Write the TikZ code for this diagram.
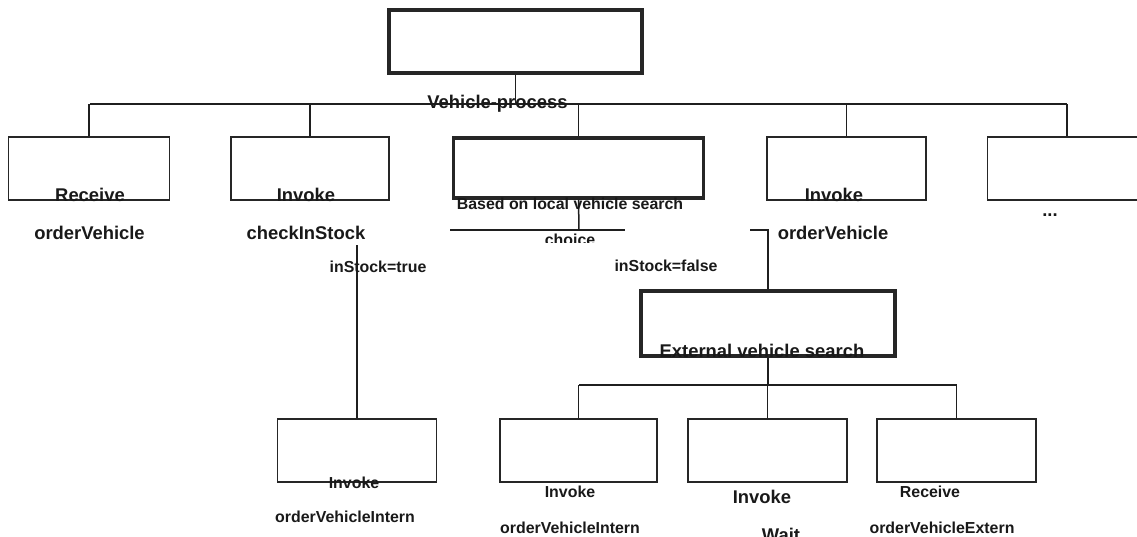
\documentclass[tikz,border=0pt]{standalone}
\usepackage{fontspec}
\setmainfont{Liberation Sans}
\begin{document}
\begin{tikzpicture}[x=1pt,y=-1pt,
  line width=1.5pt, draw=black!88,
  box/.style={draw=black!85, line width=1.5pt, inner sep=0pt, minimum width=159pt, minimum height=63pt},
  heavybox/.style={box, line width=3.6pt},
  lblL/.style={font=\fontsize{18.4}{20}\selectfont\bfseries, text=black!90, anchor=base, inner sep=0pt},
  lblS/.style={font=\fontsize{15.9}{18}\selectfont\bfseries, text=black!90, anchor=base, inner sep=0pt}]
\clip (0,0) rectangle (1137,536);
\fill[white] (0,0) rectangle (1137,536);

% process root
\node[heavybox, minimum width=253pt] (root) at (515.5,41.5) {};
\coordinate (busL) at (90,104);
\coordinate (busR) at (1067,104);

% first level activities
\node[box, minimum width=161pt] (recv) at (89,168.5) {};
\node[box, minimum width=158pt] (check) at (310,168.5) {};
\node[heavybox, minimum width=250pt, minimum height=60pt] (local) at (578.5,168) {};
\node[box] (order) at (846.5,168.5) {};
\node[box] (more) at (1067,168.5) {};

% choice branches
\coordinate (choiceJ) at (579,230);
\coordinate (choiceL) at (450,230);
\coordinate (choiceR) at (625,230);
\coordinate (trueTop) at (357,245);
\coordinate (falseTop) at (750,230);

\node[box] (intern) at (357,450.5) {};
\node[heavybox, minimum width=254pt, minimum height=65pt] (ext) at (768,323.5) {};
\coordinate (bus2L) at (579,385);
\coordinate (bus2R) at (957,385);
\node[box, minimum width=157pt] (extA) at (578.5,450.5) {};
\node[box] (extB) at (767.5,450.5) {};
\node[box] (extC) at (956.5,450.5) {};

% connectors
\draw (root.south) -- (root.south |- busL);
\draw (busL) -- (busR);
\foreach \n in {recv,check,local,order,more}
  \draw (\n.north) -- (\n.north |- busL);
\draw (local.south) -- (choiceJ);
\draw (choiceL) -- (choiceR);
\draw (trueTop) -- (intern.north);
\draw (falseTop) -| (ext.north);
\draw (ext.south) -- (ext.south |- bus2L);
\draw (bus2L) -- (bus2R);
\foreach \n in {extA,extB,extC}
  \draw (\n.north) -- (\n.north |- bus2L);

% labels
\node[lblL] (tRoot) at (497.5,108) {Vehicle-process};
\node[lblL] (tRecv1) at (90,201) {Receive};
\node[lblL] (tRecv2) at (89.5,239) {orderVehicle};
\node[lblL] (tChk1) at (306,201) {Invoke};
\node[lblL] (tChk2) at (306,239) {checkInStock};
\node[lblS] (tLocal) at (570,209) {Based on local vehicle search};
\begin{scope}
  \clip (430,232) rectangle (650,242.5);
  \node[lblS] (tChoice) at (570,245) {choice};
\end{scope}
\node[lblS] (tTrue) at (378,272) {inStock=true};
\node[lblS] (tFalse) at (666,271) {inStock=false};
\node[lblL] (tOrd1) at (834,201) {Invoke};
\node[lblL] (tOrd2) at (833,239) {orderVehicle};
\node[lblL] (tMore) at (1050,216) {...};
\node[lblL] (tExt) at (762,357) {External vehicle search};
\node[lblS] (tInt1) at (354,488) {Invoke};
\node[lblS] (tInt2) at (345,522) {orderVehicleIntern};
\node[lblS] (tA1) at (570,497) {Invoke};
\node[lblS] (tA2) at (570,533.5) {orderVehicleIntern};
\node[lblL] (tB1) at (762,503) {Invoke};
\node[lblL] (tB2) at (781,541) {Wait};
\node[lblS] (tC1) at (930,497) {Receive};
\node[lblS] (tC2) at (942,533.5) {orderVehicleExtern};
\end{tikzpicture}
\end{document}
